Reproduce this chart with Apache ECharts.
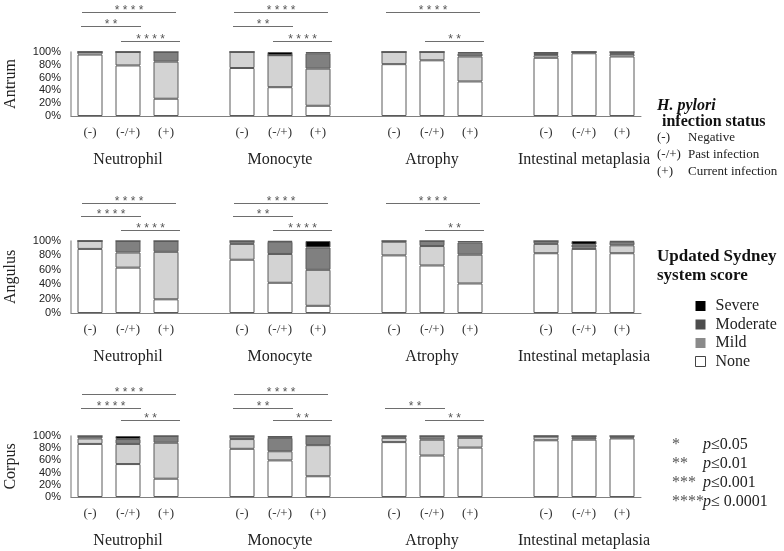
<!DOCTYPE html>
<html><head><meta charset="utf-8">
<script src="https://cdn.jsdelivr.net/npm/echarts@6/dist/echarts.min.js"></script>
<style>html,body{margin:0;padding:0;background:#fff}#c{width:784px;height:551px}</style>
</head><body><div id="c"></div>
<script>
// ---------- data ----------
const statusLabels = ['(-)', '(-/+)', '(+)'];
const groups = ['Neutrophil', 'Monocyte', 'Atrophy', 'Intestinal metaplasia'];
const sites = ['Antrum', 'Angulus', 'Corpus'];
const grades = ['None', 'Mild', 'Moderate', 'Severe'];
const yTicks = [0, 20, 40, 60, 80, 100];

// order inside each array: Neutrophil(-,-/+,+), Monocyte(...), Atrophy(...), Intestinal metaplasia(...)
const antrumNone     = [96, 79, 27, 75, 45, 16, 81, 87, 54, 91, 98, 93];
const antrumMild     = [4, 21, 58, 25, 50, 58, 19, 13, 39, 4, 2, 4];
const antrumModerate = [0, 0, 15, 0, 0, 24, 0, 0, 5, 2, 0, 3];
const antrumSevere   = [0, 0, 0, 0, 5, 2, 0, 0, 2, 3, 0, 0];

const angulusNone     = [89, 63, 19, 74, 42, 10, 80, 66, 41, 83, 89, 83];
const angulusMild     = [11, 21, 66, 22, 40, 50, 19, 27, 40, 13, 2, 11];
const angulusModerate = [0, 16, 15, 4, 17, 31, 1, 7, 17, 4, 4, 5];
const angulusSevere   = [0, 0, 0, 0, 1, 9, 0, 0, 2, 0, 5, 1];

const corpusNone     = [87, 54, 30, 79, 60, 34, 90, 68, 81, 93, 94, 96];
const corpusMild     = [9, 33, 59, 16, 15, 51, 7, 26, 16, 6, 3, 2];
const corpusModerate = [4, 8, 11, 5, 22, 15, 3, 6, 3, 1, 3, 2];
const corpusSevere   = [0, 5, 0, 0, 3, 0, 0, 0, 0, 0, 0, 0];

// significance comparisons: [from bar, to bar, stars]
const antrumSig  = [[0, 2, '****'], [0, 1, '**'], [1, 2, '****'], [3, 5, '****'], [3, 4, '**'], [4, 5, '****'], [6, 8, '****'], [7, 8, '**']];
const angulusSig = [[0, 2, '****'], [0, 1, '****'], [1, 2, '****'], [3, 5, '****'], [3, 4, '**'], [4, 5, '****'], [6, 8, '****'], [7, 8, '**']];
const corpusSig  = [[0, 2, '****'], [0, 1, '****'], [1, 2, '**'], [3, 5, '****'], [3, 4, '**'], [4, 5, '**'], [6, 7, '**'], [7, 8, '**']];

const statusLegend = [['(-)', 'Negative'], ['(-/+)', 'Past infection'], ['(+)', 'Current infection']];
const pLegend = [['*', 'p', '≤0.05'], ['**', 'p', '≤0.01'], ['***', 'p', '≤0.001'], ['****', 'p', '≤ 0.0001']];

// ---------- build ----------
const siteData = [
  [antrumNone, antrumMild, antrumModerate, antrumSevere],
  [angulusNone, angulusMild, angulusModerate, angulusSevere],
  [corpusNone, corpusMild, corpusModerate, corpusSevere]
];
const siteSig = [antrumSig, angulusSig, corpusSig];

function slotOf(i) { return Math.floor(i / 3) * 4 + (i % 3); }
const nSlots = slotOf(groups.length * 3 - 1) + 1;
const categories = [];
const groupSlots = [];
for (let s = 0; s < nSlots; s++) { categories.push(''); groupSlots.push(''); }
groups.forEach((g, gi) => {
  statusLabels.forEach((st, k) => { categories[slotOf(gi * 3 + k)] = st; });
  groupSlots[slotOf(gi * 3 + 1)] = g;
});
function toSlots(arr) {
  const out = new Array(nSlots).fill('-');
  arr.forEach((v, i) => { out[slotOf(i)] = v; });
  return out;
}

const SERIF = 'Liberation Serif';
const SANS = 'Liberation Sans';
const barColors = { None: '#ffffff', Mild: '#d3d3d3', Moderate: '#808080', Severe: '#000000' };
const gridsPos = [
  { left: 71, width: 570, top: 52, height: 64 },
  { left: 71, width: 570, top: 241, height: 72 },
  { left: 71, width: 570, top: 436, height: 61 }
];

const grid = [], xAxis = [], yAxis = [], series = [];
sites.forEach((site, si) => {
  grid.push(Object.assign({ containLabel: false, outerBoundsMode: 'none' }, gridsPos[si]));
  xAxis.push({
    type: 'category', gridIndex: si, position: 'bottom', data: categories,
    axisLine: { show: true, lineStyle: { color: '#808080', width: 1 } },
    axisTick: { show: false },
    axisLabel: { interval: 0, margin: 10, fontFamily: SERIF, fontSize: 13, color: '#333' }
  });
  xAxis.push({
    type: 'category', gridIndex: si, position: 'bottom', data: groupSlots,
    axisLine: { show: false }, axisTick: { show: false }, splitLine: { show: false },
    axisLabel: { interval: 0, margin: 36, fontFamily: SERIF, fontSize: 16, color: '#222' }
  });
  yAxis.push({
    type: 'value', gridIndex: si, min: yTicks[0], max: yTicks[yTicks.length - 1],
    interval: yTicks[1] - yTicks[0],
    name: site, nameLocation: 'middle', nameRotate: 90, nameGap: 52,
    nameTextStyle: { fontFamily: SERIF, fontSize: 16, color: '#222' },
    axisLine: { show: true, lineStyle: { color: '#a0a0a0', width: 1.5 } },
    axisTick: { show: false }, splitLine: { show: false },
    axisLabel: { formatter: '{value}%', margin: 10, fontFamily: SANS, fontSize: 11, color: '#222' }
  });
  grades.forEach((g, gi) => {
    series.push({
      type: 'bar', name: g, stack: 'site' + si, xAxisIndex: si * 2, yAxisIndex: si,
      barWidth: 25, data: toSlots(siteData[si][gi]),
      itemStyle: { color: barColors[g], borderColor: '#5a5a5a', borderWidth: 1 }
    });
  });
});

const chart = echarts.init(document.getElementById('c'), null, { renderer: 'canvas' });
chart.setOption({
  animation: false,
  backgroundColor: '#fff',
  grid, xAxis, yAxis, series,
  legend: {
    orient: 'vertical', left: 690, top: 293, itemWidth: 10, itemHeight: 10, itemGap: 2.5,
    selectedMode: false, icon: 'rect',
    data: [
      { name: 'Severe', itemStyle: { color: '#000', borderColor: '#000', borderWidth: 0 } },
      { name: 'Moderate', itemStyle: { color: '#4d4d4d', borderColor: '#4d4d4d', borderWidth: 0 } },
      { name: 'Mild', itemStyle: { color: '#8a8a8a', borderColor: '#8a8a8a', borderWidth: 0 } },
      { name: 'None', itemStyle: { color: '#fff', borderColor: '#444', borderWidth: 1 } }
    ],
    textStyle: { fontFamily: SERIF, fontSize: 16, color: '#222', padding: [0, 0, 0, 5] }
  }
});

// ---------- annotations ----------
const graphic = [];
const bracketLevels = [[11, 26, 40], [11, 25, 38], [16, 28, 42]];
sites.forEach((site, si) => {
  const topY = chart.convertToPixel({ yAxisIndex: si }, 100);
  siteSig[si].forEach(([a, b, label]) => {
    const xa = chart.convertToPixel({ xAxisIndex: si * 2 }, slotOf(a));
    const xb = chart.convertToPixel({ xAxisIndex: si * 2 }, slotOf(b));
    let level, dx0, dx1;
    if (b - a === 2) { level = 2; dx0 = -8; dx1 = 10; }
    else if (a % 3 === 0) { level = 1; dx0 = -9; dx1 = 13; }
    else { level = 0; dx0 = -7; dx1 = 14; }
    const y = Math.round(topY - bracketLevels[si][level]) + 0.5;
    const x0 = xa + dx0, x1 = xb + dx1;
    graphic.push({ type: 'line', shape: { x1: x0, y1: y, x2: x1, y2: y }, style: { stroke: '#6e6e6e', lineWidth: 1 }, silent: true });
    graphic.push({ type: 'text', x: (x0 + x1) / 2, y: y - 2,
      style: { text: label.split('').join(' '), font: '12px ' + SANS, fill: '#555', align: 'center', verticalAlign: 'middle' }, silent: true });
  });
});

// H. pylori infection status legend
graphic.push({ type: 'text', x: 657, y: 106, style: { text: 'H. pylori', font: 'italic bold 16px ' + SERIF, fill: '#111', verticalAlign: 'middle' } });
graphic.push({ type: 'text', x: 662, y: 122, style: { text: 'infection status', font: 'bold 16px ' + SERIF, fill: '#111', verticalAlign: 'middle' } });
statusLegend.forEach(([code, desc], i) => {
  const y = 138 + i * 17;
  graphic.push({ type: 'text', x: 657, y, style: { text: code, font: '13px ' + SERIF, fill: '#222', verticalAlign: 'middle' } });
  graphic.push({ type: 'text', x: 688, y, style: { text: desc, font: '13px ' + SERIF, fill: '#222', verticalAlign: 'middle' } });
});
// Updated Sydney system score title
graphic.push({ type: 'text', x: 657, y: 257, style: { text: 'Updated Sydney', font: 'bold 17px ' + SERIF, fill: '#111', verticalAlign: 'middle' } });
graphic.push({ type: 'text', x: 657, y: 276, style: { text: 'system score', font: 'bold 17px ' + SERIF, fill: '#111', verticalAlign: 'middle' } });
// p-value legend
pLegend.forEach(([stars, p, rest], i) => {
  const y = 445 + i * 19;
  graphic.push({ type: 'text', x: 672, y: y, style: { text: stars, font: '16px ' + SERIF, fill: '#555', verticalAlign: 'middle' } });
  graphic.push({ type: 'text', x: 703, y, style: {
    text: '{i|' + p + '}' + rest, font: '16px ' + SERIF, fill: '#222', verticalAlign: 'middle',
    rich: { i: { fontStyle: 'italic', fontFamily: SERIF, fontSize: 16, fill: '#222' } } } });
});

chart.setOption({ graphic });
</script>
</body></html>
